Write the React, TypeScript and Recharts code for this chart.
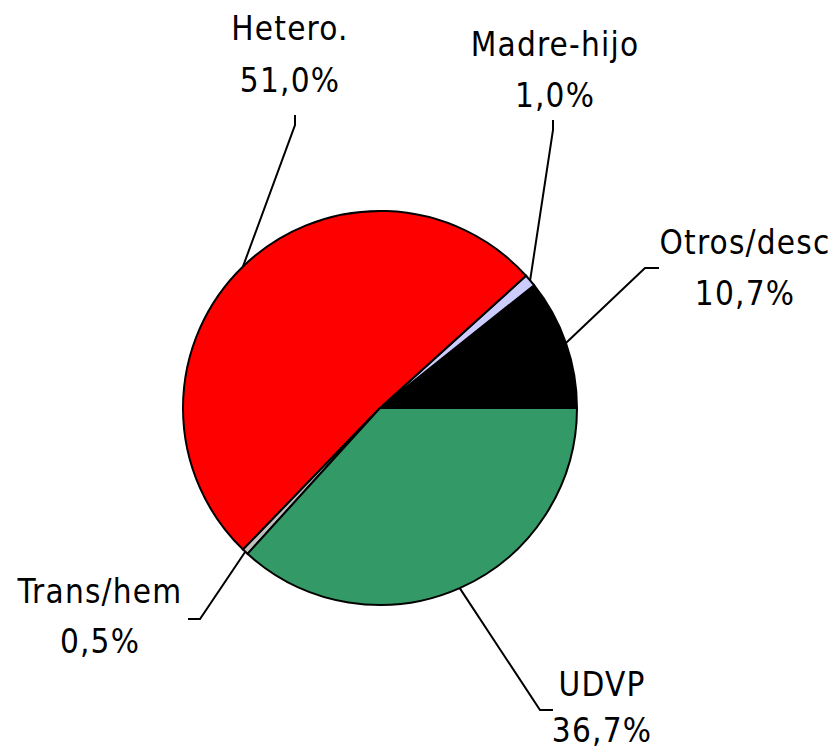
import React from 'react';
import { PieChart, Pie, Cell } from 'recharts';

const categories = ['Otros/desc', 'Madre-hijo', 'Hetero.', 'Trans/hem', 'UDVP'];
const shares = [10.7, 1.0, 51.0, 0.5, 36.7];
const colors = ['#000000', '#ccccff', '#ff0000', '#c0c0c0', '#339966'];

const data = categories.map((name, i) => ({ name, value: shares[i] }));

// label layout: elbow offset from pie centre, tail direction, text offset from elbow
const labelLayout = [
  { ex: 265, ey: -140, tx: 14, ty: 0, nx: 100, ny: -26, vy: 25 },
  { ex: 173, ey: -278, tx: 0, ty: -10, nx: 2, ny: -86, vy: -35 },
  { ex: -85, ey: -283, tx: 0, ty: -10, nx: -5, ny: -97, vy: -45 },
  { ex: -180, ey: 211, tx: -12, ty: 0, nx: -100, ny: -28, vy: 22 },
  { ex: 160, ey: 302, tx: 13, ty: 0, nx: 62, ny: -26, vy: 20 },
];

const RAD = Math.PI / 180;
const fmt = (v: number) => v.toFixed(1).replace('.', ',') + '%';

const renderLabel = (props: any) => {
  const { cx, cy, midAngle, outerRadius, index, value, name } = props;
  const l = labelLayout[index];
  const sx = cx + outerRadius * Math.cos(-midAngle * RAD);
  const sy = cy + outerRadius * Math.sin(-midAngle * RAD);
  const ex = cx + l.ex;
  const ey = cy + l.ey;
  const textStyle = {
    fontFamily: '"DejaVu Sans Condensed", "DejaVu Sans", sans-serif',
    fontSize: 33,
    letterSpacing: 1.2,
  };
  return (
    <g key={`lbl-${index}`}>
      <polyline
        points={`${sx},${sy} ${ex},${ey} ${ex + l.tx},${ey + l.ty}`}
        fill="none"
        stroke="#000"
        strokeWidth={2}
      />
      <text x={ex + l.nx} y={ey + l.ny} textAnchor="middle" dominantBaseline="central" fill="#000" style={textStyle}>
        {name}
      </text>
      <text x={ex + l.nx} y={ey + l.vy} textAnchor="middle" dominantBaseline="central" fill="#000" style={textStyle}>
        {fmt(value)}
      </text>
    </g>
  );
};

export default function App() {
  return (
    <div style={{ position: 'absolute', left: 0, top: 0, background: '#fff' }}>
      <PieChart width={836} height={749} margin={{ top: 0, right: 0, bottom: 0, left: 0 }}>
        <Pie
          data={data}
          dataKey="value"
          nameKey="name"
          cx={380}
          cy={408}
          outerRadius={197}
          startAngle={0}
          endAngle={360}
          stroke="#000"
          strokeWidth={2}
          label={renderLabel}
          labelLine={false}
          isAnimationActive={false}
        >
          {data.map((d, i) => (
            <Cell key={d.name} fill={colors[i]} />
          ))}
        </Pie>
      </PieChart>
    </div>
  );
}
